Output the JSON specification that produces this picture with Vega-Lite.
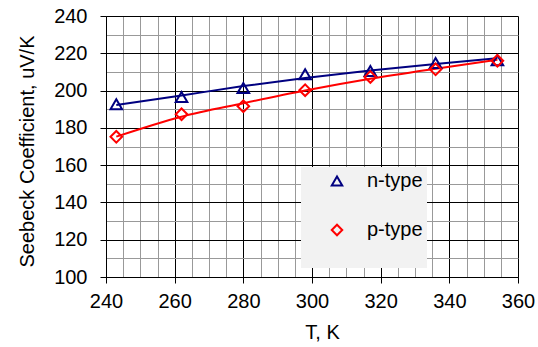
{
  "$schema": "https://vega.github.io/schema/vega-lite/v6.json",
  "width": 412,
  "height": 261,
  "autosize": {"type": "none"},
  "padding": {"left": 106, "top": 16, "right": 20, "bottom": 70},
  "background": "white",
  "datasets": {
    "points": [
      {"T": 243, "S": 192.7, "type": "n-type"},
      {"T": 262, "S": 196.6, "type": "n-type"},
      {"T": 280, "S": 201.4, "type": "n-type"},
      {"T": 298, "S": 208.8, "type": "n-type"},
      {"T": 317, "S": 210.5, "type": "n-type"},
      {"T": 336, "S": 214.8, "type": "n-type"},
      {"T": 354, "S": 216.3, "type": "n-type"},
      {"T": 243, "S": 175.2, "type": "p-type"},
      {"T": 262, "S": 187.3, "type": "p-type"},
      {"T": 280, "S": 191.6, "type": "p-type"},
      {"T": 298, "S": 200.2, "type": "p-type"},
      {"T": 317, "S": 207.3, "type": "p-type"},
      {"T": 336, "S": 211.4, "type": "p-type"},
      {"T": 354, "S": 216.0, "type": "p-type"}
    ],
    "fit": [
      {"T": 243, "S": 192.3, "type": "n-type"},
      {"T": 262, "S": 197.4, "type": "n-type"},
      {"T": 280, "S": 202.4, "type": "n-type"},
      {"T": 298, "S": 206.8, "type": "n-type"},
      {"T": 317, "S": 210.8, "type": "n-type"},
      {"T": 336, "S": 214.3, "type": "n-type"},
      {"T": 354, "S": 217.3, "type": "n-type"},
      {"T": 243, "S": 175.3, "type": "p-type"},
      {"T": 262, "S": 186.0, "type": "p-type"},
      {"T": 280, "S": 193.2, "type": "p-type"},
      {"T": 298, "S": 200.0, "type": "p-type"},
      {"T": 317, "S": 206.3, "type": "p-type"},
      {"T": 336, "S": 211.7, "type": "p-type"},
      {"T": 354, "S": 216.5, "type": "p-type"}
    ]
  },
  "config": {
    "view": {"stroke": null},
    "font": "Liberation Sans",
    "axis": {
      "labelFont": "Liberation Sans",
      "labelFontSize": 20,
      "labelColor": "#000000",
      "titleFont": "Liberation Sans",
      "titleFontSize": 20,
      "titleFontWeight": "normal",
      "titleColor": "#000000",
      "domainColor": "#000000",
      "domainWidth": 1,
      "tickColor": "#000000",
      "tickSize": 6,
      "tickWidth": 1,
      "gridWidth": 1,
      "gridOpacity": 1
    }
  },
  "encoding": {
    "x": {
      "field": "T", "type": "quantitative",
      "scale": {"domain": [240, 360], "nice": false},
      "axis": {
        "title": "T, K",
        "values": [240,245,250,255,260,265,270,275,280,285,290,295,300,305,310,315,320,325,330,335,340,345,350,355,360],
        "labelExpr": "datum.value % 20 === 0 ? datum.label : ''",
        "tickOpacity": {"condition": {"test": "datum.value % 20 === 0", "value": 1}, "value": 0},
        "gridColor": {"condition": {"test": "datum.value % 20 === 0", "value": "#000000"}, "value": "#999999"},
        "labelPadding": 8,
        "labelFlush": false,
        "labelOverlap": false,
        "titleX": 216,
        "titleY": 61,
        "titleBaseline": "alphabetic"
      }
    },
    "y": {
      "field": "S", "type": "quantitative",
      "scale": {"domain": [100, 240], "nice": false, "zero": false},
      "axis": {
        "title": "Seebeck Coefficient, uV/K",
        "values": [100,110,120,130,140,150,160,170,180,190,200,210,220,230,240],
        "labelExpr": "datum.value % 20 === 0 ? datum.label : ''",
        "tickOpacity": {"condition": {"test": "datum.value % 20 === 0", "value": 1}, "value": 0},
        "gridColor": {"condition": {"test": "datum.value % 20 === 0", "value": "#000000"}, "value": "#999999"},
        "labelPadding": 13,
        "labelOverlap": false,
        "titleAngle": 270,
        "titleX": -73,
        "titleY": 135,
        "titleBaseline": "alphabetic"
      }
    }
  },
  "layer": [
    {
      "data": {"name": "fit"},
      "transform": [{"filter": "datum.type === 'n-type'"}],
      "mark": {"type": "line", "interpolate": "monotone", "strokeWidth": 2, "color": "#000080"}
    },
    {
      "data": {"name": "fit"},
      "transform": [{"filter": "datum.type === 'p-type'"}],
      "mark": {"type": "line", "interpolate": "monotone", "strokeWidth": 2, "color": "#ff0000"}
    },
    {
      "data": {"name": "points"},
      "mark": {"type": "point", "filled": false, "strokeWidth": 2, "opacity": 1, "size": 135},
      "encoding": {
        "color": {
          "field": "type", "type": "nominal",
          "scale": {"domain": ["n-type", "p-type"], "range": ["#000080", "#ff0000"]},
          "legend": {
            "title": "\u00a0\u00a0\u00a0\u00a0\u00a0\u00a0\u00a0\u00a0\u00a0\u00a0\u00a0\u00a0\u00a0\u00a0\u00a0\u00a0\u00a0\u00a0\u00a0\u00a0\u00a0\u00a0\u00a0\u00a0\u00a0\u00a0\u00a0\u00a0\u00a0\u00a0\u00a0\u00a0\u00a0\u00a0",
            "orient": "none",
            "legendX": 195,
            "legendY": 151,
            "fillColor": "#f2f2f2",
            "padding": 4,
            "symbolOffset": 22,
            "labelOffset": 20,
            "rowPadding": 29,
            "labelFont": "Liberation Sans",
            "labelFontSize": 20,
            "labelColor": "#000000",
            "symbolSize": 110,
            "symbolStrokeWidth": 2,
            "titleOrient": "bottom",
            "titleFont": "Liberation Sans",
            "titleFontSize": 20,
            "titlePadding": 4,
            "titleLimit": 1000
          }
        },
        "shape": {
          "field": "type", "type": "nominal",
          "scale": {"domain": ["n-type", "p-type"], "range": ["triangle-up", "diamond"]},
          "legend": {"title": "\u00a0\u00a0\u00a0\u00a0\u00a0\u00a0\u00a0\u00a0\u00a0\u00a0\u00a0\u00a0\u00a0\u00a0\u00a0\u00a0\u00a0\u00a0\u00a0\u00a0\u00a0\u00a0\u00a0\u00a0\u00a0\u00a0\u00a0\u00a0\u00a0\u00a0\u00a0\u00a0\u00a0\u00a0"}
        }
      }
    }
  ]
}
